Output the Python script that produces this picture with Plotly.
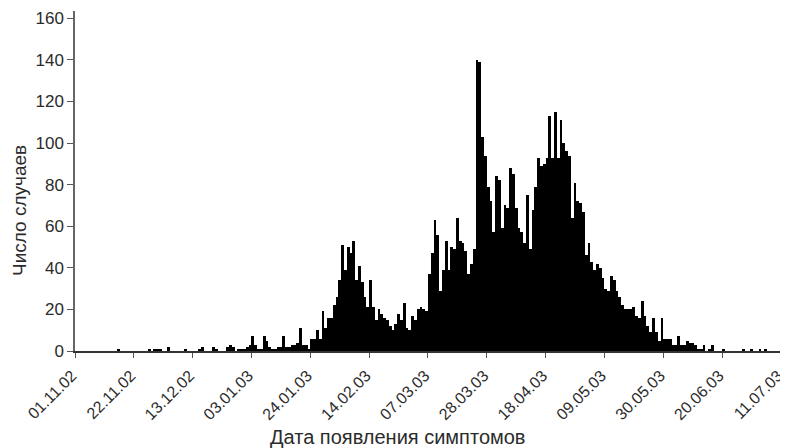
import pandas as pd
import plotly.graph_objects as go

start_date = "2002-11-01"

# daily case counts from 01.11.02 onwards
cases = [
    0, 0, 0, 0, 0, 0, 0, 0, 0, 0, 0, 0, 0, 0, 0, 1, 0, 0, 0, 0,       # d0-19
    0, 0, 0, 0, 0, 0, 1, 0, 1, 1, 1, 0, 0, 2, 0, 0, 0, 0, 0, 1,       # d20-39
    0, 0, 0, 0, 1, 2, 0, 0, 0, 2, 1, 0, 0, 0, 2, 3, 2, 0, 1, 1,       # d40-59
    1, 2, 3, 7, 3, 1, 1, 7, 5, 2, 1, 1, 2, 2, 7, 2, 2, 3, 3, 4,       # d60-79
    11, 3, 3, 1, 6, 6, 10, 6, 19, 11, 16, 16, 22, 26, 34, 51, 39, 50, 47, 53,   # d80-99
    34, 41, 33, 26, 21, 34, 21, 15, 20, 18, 16, 15, 12, 10, 13, 18, 15, 23, 11, 10,  # d100-119
    17, 15, 20, 21, 20, 19, 37, 47, 63, 56, 29, 39, 53, 39, 50, 49, 64, 53, 52, 48,  # d120-139
    37, 42, 49, 140, 139, 103, 94, 79, 72, 57, 84, 82, 59, 70, 69, 88, 85, 69, 59, 57,  # d140-159
    52, 75, 49, 68, 79, 93, 89, 90, 93, 113, 93, 115, 93, 111, 100, 96, 94, 64, 81, 72,  # d160-179
    71, 67, 46, 52, 43, 39, 42, 40, 35, 30, 29, 36, 34, 29, 26, 22, 20, 20, 20, 21,  # d180-199
    17, 16, 24, 17, 12, 9, 16, 9, 5, 16, 6, 6, 6, 3, 3, 7, 3, 3, 5, 4,   # d200-219
    4, 3, 1, 1, 3, 0, 1, 3, 0, 0, 0, 1, 0, 0, 0, 0, 0, 0, 1, 0,       # d220-239
    0, 1, 0, 0, 1, 0, 1, 0, 0, 0, 0, 0,                               # d240-251
]

dates = pd.date_range(start_date, periods=len(cases), freq="D")

y_title = "Число случаев"
x_title = "Дата появления симптомов"
y_ticks = [0, 20, 40, 60, 80, 100, 120, 140, 160]

DAY_MS = 86400000
FONT = "Liberation Sans, Arial, sans-serif"
TEXT_COLOR = "#2b2b2b"

# the page body keeps an 8px margin, so the figure is 8px smaller than the window
FIG_W, FIG_H = 780, 440
M_L, M_R, M_T, M_B = 67, 2, 3, 97
PLOT_W = FIG_W - M_L - M_R
PLOT_H = FIG_H - M_T - M_B

fig = go.Figure(
    go.Bar(
        x=dates,
        y=cases,
        width=DAY_MS,
        offset=0,
        marker=dict(color="black", line=dict(width=0)),
        hoverinfo="x+y",
    )
)

fig.update_layout(
    width=FIG_W,
    height=FIG_H,
    margin=dict(l=M_L, r=M_R, t=M_T, b=M_B, autoexpand=False),
    paper_bgcolor="white",
    plot_bgcolor="white",
    bargap=0,
    showlegend=False,
    font=dict(family=FONT, color=TEXT_COLOR),
    xaxis=dict(
        type="date",
        range=[pd.Timestamp(start_date), pd.Timestamp(start_date) + pd.Timedelta(days=253.8)],
        tick0=start_date,
        dtick=21 * DAY_MS,
        tickformat="%d.%m.%y",
        tickangle=-45,
        ticks="outside",
        ticklen=5,
        tickwidth=1.2,
        tickcolor="#555555",
        tickfont=dict(size=16, color=TEXT_COLOR),
        ticklabeloverflow="allow",
        ticklabelshift=-3,
        ticklabelstandoff=2,
        showline=True,
        linecolor="#333333",
        linewidth=2,
        showgrid=False,
        zeroline=False,
        automargin=False,
        fixedrange=True,
    ),
    yaxis=dict(
        range=[0, 163.5],
        tickvals=y_ticks,
        ticks="outside",
        ticklen=6,
        tickwidth=1.2,
        tickcolor="#555555",
        tickfont=dict(size=17, color=TEXT_COLOR),
        showline=True,
        linecolor="#666666",
        linewidth=1.5,
        showgrid=False,
        zeroline=False,
        automargin=False,
        fixedrange=True,
    ),
    annotations=[
        dict(
            text=x_title,
            xref="paper", yref="paper",
            x=(390 - M_L) / PLOT_W, y=0,
            xanchor="center", yanchor="middle",
            yshift=-86,
            showarrow=False,
            font=dict(size=20, color=TEXT_COLOR, family=FONT),
        ),
        dict(
            text=y_title,
            xref="paper", yref="paper",
            x=0, y=(343 - 203) / PLOT_H,
            xanchor="center", yanchor="middle",
            xshift=-56,
            textangle=-90,
            showarrow=False,
            font=dict(size=19, color=TEXT_COLOR, family=FONT),
        ),
    ],
)

fig.write_html("out.html")
